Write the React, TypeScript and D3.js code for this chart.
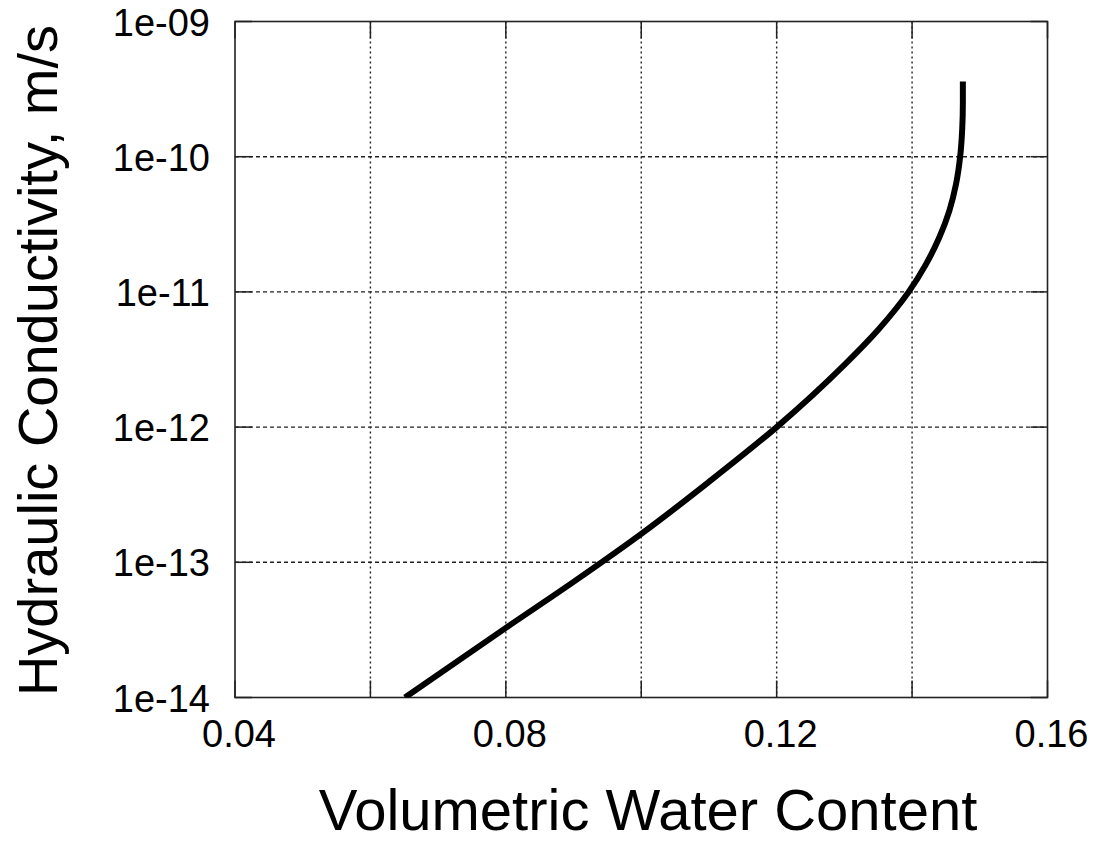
import React from "react";
import * as d3 from "d3";

// Data
const theta: number[] = [0.0651, 0.08, 0.09, 0.1, 0.11, 0.12, 0.13, 0.135, 0.1395, 0.142, 0.144, 0.1455, 0.1465, 0.1471, 0.1474, 0.1475, 0.1475];
const logK: number[] = [-14, -13.485, -13.145, -12.79, -12.405, -12.0, -11.54, -11.28, -11.0, -10.8, -10.6, -10.4, -10.2, -10.0, -9.8, -9.6, -9.444];

const xTicks: number[] = [0.04, 0.06, 0.08, 0.1, 0.12, 0.14, 0.16];
const xTickLabels: number[] = [0.04, 0.08, 0.12, 0.16];
const yTicks: number[] = [1e-14, 1e-13, 1e-12, 1e-11, 1e-10, 1e-9];
const yTickLabels: string[] = ["1e-14", "1e-13", "1e-12", "1e-11", "1e-10", "1e-09"];

const xTitle = "Volumetric Water Content";
const yTitle = "Hydraulic Conductivity, m/s";

const W = 1099;
const H = 842;
const left = 235;
const right = 1047.5;
const top = 21.5;
const bottom = 697.5;
const FONT = "'Liberation Sans', Arial, Helvetica, sans-serif";

export default function App() {
  const x = d3.scaleLinear().domain([0.04, 0.16]).range([left, right]);
  const y = d3.scaleLog().domain([1e-14, 1e-9]).range([bottom, top]);

  const pts: [number, number][] = theta.map((t, i) => [t, Math.pow(10, logK[i])]);
  const line = d3
    .line<[number, number]>()
    .x((d) => x(d[0]))
    .y((d) => y(d[1]))
    .curve(d3.curveMonotoneY);

  const tickLen = 17;
  const axisColor = "#222";

  return (
    <svg
      width={W}
      height={H}
      style={{ position: "absolute", left: 0, top: 0, background: "#fff" }}
      xmlns="http://www.w3.org/2000/svg"
    >
      <rect x={0} y={0} width={W} height={H} fill="#fff" />
      <defs>
        <clipPath id="plotClip">
          <rect x={left} y={top} width={right - left} height={bottom - top} />
        </clipPath>
      </defs>

      {/* vertical grid */}
      {xTicks.slice(1, -1).map((t) => (
        <line
          key={"gx" + t}
          x1={x(t)}
          x2={x(t)}
          y1={top}
          y2={bottom}
          stroke="#222"
          strokeWidth={1.4}
          strokeDasharray="2,3"
        />
      ))}
      {/* horizontal grid */}
      {yTicks.slice(1, -1).map((t) => (
        <line
          key={"gy" + t}
          x1={left}
          x2={right}
          y1={y(t)}
          y2={y(t)}
          stroke="#222"
          strokeWidth={1.4}
          strokeDasharray="4,3"
        />
      ))}

      {/* ticks */}
      {xTicks.map((t) => (
        <g key={"tx" + t}>
          <line x1={x(t)} x2={x(t)} y1={bottom} y2={bottom - tickLen} stroke={axisColor} strokeWidth={1.5} />
          <line x1={x(t)} x2={x(t)} y1={top} y2={top + tickLen} stroke={axisColor} strokeWidth={1.5} />
        </g>
      ))}
      {yTicks.map((t) => (
        <g key={"ty" + t}>
          <line x1={left} x2={left + tickLen} y1={y(t)} y2={y(t)} stroke={axisColor} strokeWidth={1.5} />
          <line x1={right} x2={right - tickLen} y1={y(t)} y2={y(t)} stroke={axisColor} strokeWidth={1.5} />
        </g>
      ))}

      {/* frame */}
      <rect
        x={left}
        y={top}
        width={right - left}
        height={bottom - top}
        fill="none"
        stroke={axisColor}
        strokeWidth={1.6}
      />

      {/* curve */}
      <path
        d={line(pts) || ""}
        fill="none"
        stroke="#000"
        strokeWidth={6}
        strokeLinecap="butt"
        strokeLinejoin="round"
        clipPath="url(#plotClip)"
      />

      {/* x tick labels */}
      {xTickLabels.map((t) => (
        <text
          key={"lx" + t}
          x={x(t) + 4}
          y={747}
          textAnchor="middle"
          fontFamily={FONT}
          fontSize={38}
          fill="#000"
        >
          {t.toFixed(2)}
        </text>
      ))}
      {/* y tick labels */}
      {yTicks.map((t, i) => (
        <text
          key={"ly" + t}
          x={210}
          y={y(t) + 14}
          textAnchor="end"
          fontFamily={FONT}
          fontSize={38}
          fill="#000"
        >
          {yTickLabels[i]}
        </text>
      ))}

      {/* axis titles */}
      <text x={648} y={830} textAnchor="middle" fontFamily={FONT} fontSize={58} fill="#000">
        {xTitle}
      </text>
      <text
        transform={`translate(57, ${(top + bottom) / 2 + 1}) rotate(-90)`}
        textAnchor="middle"
        fontFamily={FONT}
        fontSize={56}
        fill="#000"
      >
        {yTitle}
      </text>
    </svg>
  );
}
